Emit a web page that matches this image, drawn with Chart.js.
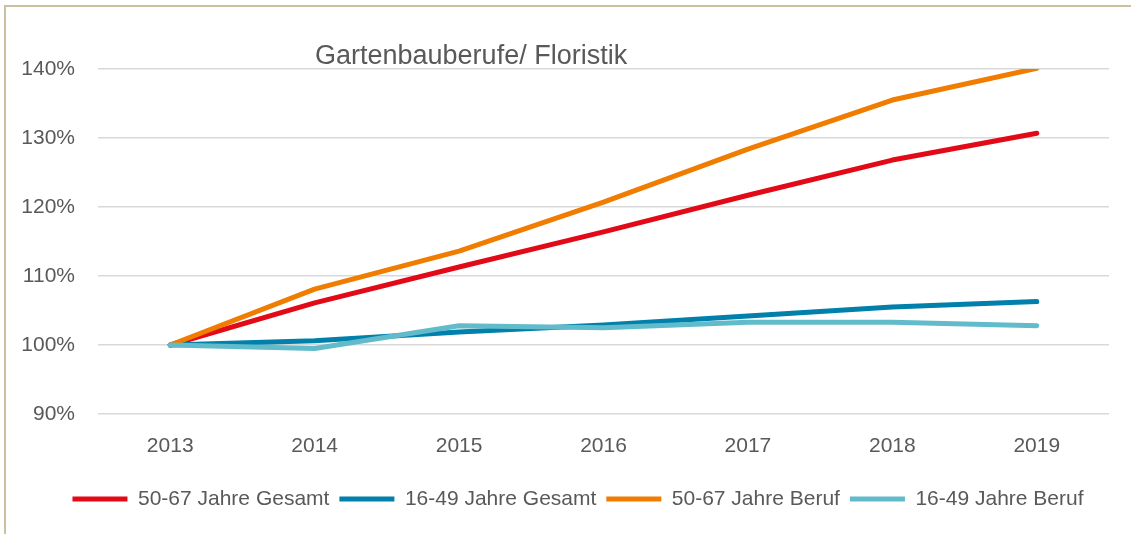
<!DOCTYPE html>
<html><head><meta charset="utf-8">
<script src="https://cdn.jsdelivr.net/npm/chart.js@4/dist/chart.umd.min.js"></script>
<style>
html,body{margin:0;padding:0;background:#fff;}
#wrap{position:relative;width:1131px;height:534px;overflow:hidden;background:#fff;}
#frame{position:absolute;left:4px;top:5px;width:1200px;height:600px;border-left:2px solid #cbc19f;border-top:2px solid #cbc19f;}
#title{position:absolute;left:315px;top:40px;font-family:"Liberation Sans",Arial,sans-serif;font-size:27px;line-height:30px;color:#595959;white-space:nowrap;}
canvas{position:absolute;left:0;top:0;}
</style></head>
<body>
<div id="wrap">
  <div id="frame"></div>
  <canvas id="c" width="1131" height="534"></canvas>
  <div id="title">Gartenbauberufe/ Floristik</div>
</div>
<script>
const categories = ['2013', '2014', '2015', '2016', '2017', '2018', '2019'];
const gesamt5067 = [100, 106.1, 111.3, 116.4, 121.7, 126.8, 130.7];
const gesamt1649 = [100, 100.6, 101.9, 102.9, 104.2, 105.5, 106.3];
const beruf5067 = [100, 108.1, 113.6, 120.7, 128.4, 135.5, 140.1];
const beruf1649 = [100, 99.5, 102.8, 102.5, 103.3, 103.3, 102.8];
const seriesNames = ['50-67 Jahre Gesamt', '16-49 Jahre Gesamt', '50-67 Jahre Beruf', '16-49 Jahre Beruf'];
const seriesColors = ['#e30a17', '#0080ab', '#f07c00', '#62bbca'];
const yTicks = [90, 100, 110, 120, 130, 140];

Chart.defaults.font.family = "'Liberation Sans', Arial, sans-serif";
Chart.defaults.color = '#595959';

const seriesData = [gesamt5067, gesamt1649, beruf5067, beruf1649];
const datasets = seriesData.map((d, i) => ({
  label: seriesNames[i],
  data: d,
  borderColor: seriesColors[i],
  backgroundColor: seriesColors[i],
  borderWidth: 5,
  borderCapStyle: 'round',
  borderJoinStyle: 'round',
  pointRadius: 0,
  pointHoverRadius: 0,
  pointStyle: 'line',
  tension: 0,
  fill: false,
  order: seriesData.length - 1 - i
}));

const legendShift = {
  id: 'legendShift',
  afterLayout(chart) {
    const l = chart.legend;
    if (l) { l.left = 47; l.width = l.right - l.left; }
  }
};

new Chart(document.getElementById('c'), {
  type: 'line',
  data: { labels: categories, datasets },
  plugins: [legendShift],
  options: {
    responsive: false,
    animation: false,
    devicePixelRatio: 1,
    layout: { padding: { left: 0, right: 22, top: 69, bottom: 14.5 } },
    plugins: {
      title: { display: false },
      tooltip: { enabled: false },
      legend: {
        position: 'bottom',
        labels: {
          usePointStyle: true,
          pointStyle: 'line',
          pointStyleWidth: 55,
          boxHeight: 5,
          padding: 10,
          font: { size: 21 },
          color: '#595959',
          sort: (a, b) => a.datasetIndex - b.datasetIndex
        }
      }
    },
    scales: {
      x: {
        offset: true,
        grid: { display: false, drawTicks: false },
        border: { display: false },
        ticks: { font: { size: 21 }, color: '#595959', padding: 20, maxRotation: 0 },
        afterFit: s => { s.height = 64.5; }
      },
      y: {
        min: yTicks[0],
        max: yTicks[yTicks.length - 1],
        afterBuildTicks: s => { s.ticks = yTicks.map(v => ({ value: v })); },
        grid: { color: '#d9d9d9', lineWidth: 1.5, drawTicks: false },
        border: { display: false },
        ticks: { font: { size: 21 }, color: '#595959', padding: 23, callback: v => v + '%' },
        afterFit: s => { s.width = 98; }
      }
    }
  }
});
</script>
</body></html>
